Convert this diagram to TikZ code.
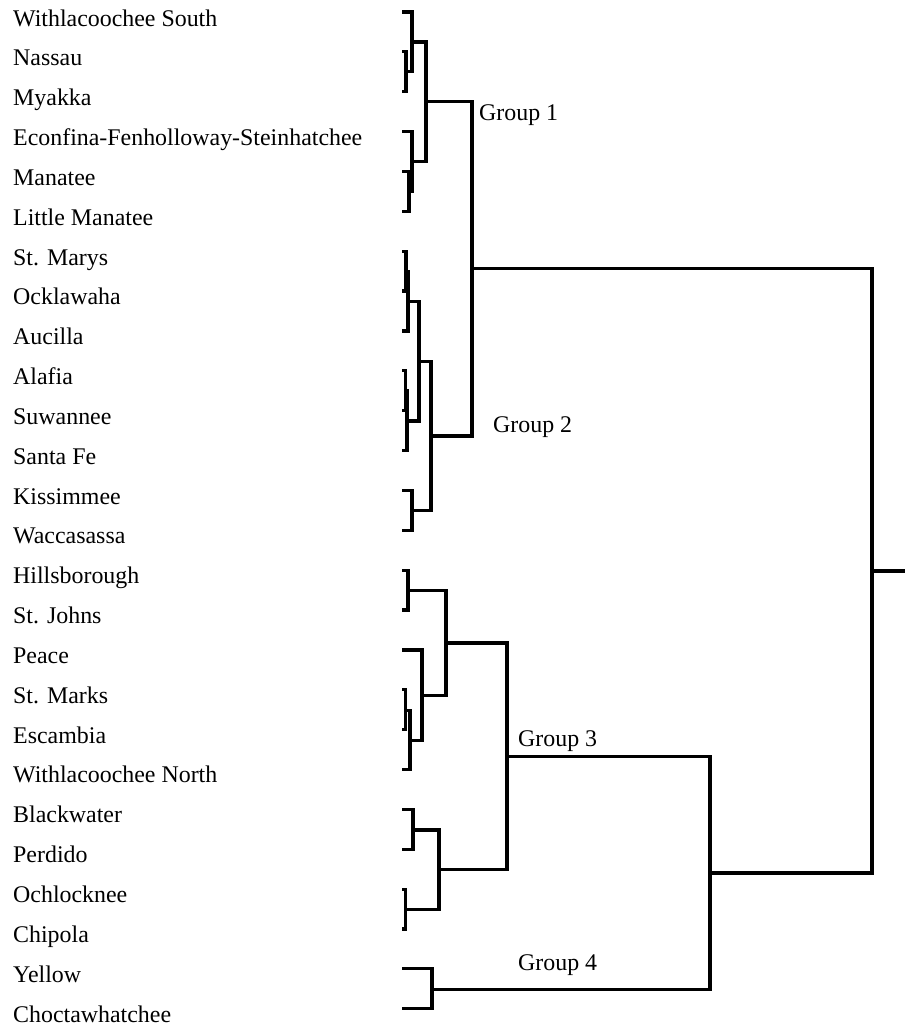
\documentclass[tikz,border=0pt]{standalone}
\usepackage{fontspec}
\setmainfont{Liberation Serif}
\begin{document}
\begin{tikzpicture}[x=1pt,y=-1pt,
  lbl/.style={anchor=base west,inner sep=0pt,font=\fontsize{23.9}{28}\selectfont},
  grp/.style={anchor=base west,inner sep=0pt,font=\fontsize{23.9}{28}\selectfont},
  br/.style={line width=3.2pt,line join=miter,line cap=rect}]
\useasboundingbox (0,0) rectangle (905,1026);
% labels
\foreach \t [count=\i from 0] in {Withlacoochee South,Nassau,Myakka,Econfina-Fenholloway-Steinhatchee,Manatee,Little Manatee,St. Marys,Ocklawaha,Aucilla,Alafia,Suwannee,Santa Fe,Kissimmee,Waccasassa,Hillsborough,St. Johns,Peace,St. Marks,Escambia,Withlacoochee North,Blackwater,Perdido,Ochlocknee,Chipola,Yellow,Choctawhatchee}
  \node[lbl] (t\i) at (13,{26+39.84*\i}) {\t};
% leaf coordinates
\foreach \i in {0,...,25}
  \coordinate (l\i) at (404,{12+39.87*\i});
% internal nodes
\coordinate (a1) at (406,71.85);
\coordinate (a2) at (412,41.9);
\coordinate (a3) at (409,191.55);
\coordinate (a4) at (412,161.6);
\coordinate (a5) at (426,101.75);
\coordinate (b1) at (406,271.35);
\coordinate (b2) at (408,301.3);
\coordinate (b3) at (405.5,391.05);
\coordinate (b4) at (407,420.98);
\coordinate (b5) at (419,361.13);
\coordinate (b6) at (412,510.75);
\coordinate (b7) at (431,435.94);
\coordinate (g12) at (472,268.85);
\coordinate (c1) at (408,590.55);
\coordinate (c2) at (405.5,710.25);
\coordinate (c3) at (410,740.18);
\coordinate (c4) at (422,695.29);
\coordinate (c5) at (446,642.92);
\coordinate (d1) at (413,829.95);
\coordinate (d2) at (405.5,909.75);
\coordinate (d3) at (439,869.85);
\coordinate (g3) at (507,756.39);
\coordinate (g4) at (432,989.55);
\coordinate (g34) at (710,872.97);
\coordinate (root) at (872,570.91);
\coordinate (rootend) at (906,570.91);
% merges
\draw[br] (l1) -| (a1) |- (l2);
\draw[br] (l0) -| (a2) |- (a1);
\draw[br] (l4) -| (a3) |- (l5);
\draw[br] (l3) -| (a4) |- (a3);
\draw[br] (a2) -| (a5) |- (a4);
\draw[br] (l6) -| (b1) |- (l7);
\draw[br] (b1) -| (b2) |- (l8);
\draw[br] (l9) -| (b3) |- (l10);
\draw[br] (b3) -| (b4) |- (l11);
\draw[br] (b2) -| (b5) |- (b4);
\draw[br] (l12) -| (b6) |- (l13);
\draw[br] (b5) -| (b7) |- (b6);
\draw[br] (a5) -| (g12) |- (b7);
\draw[br] (l14) -| (c1) |- (l15);
\draw[br] (l17) -| (c2) |- (l18);
\draw[br] (c2) -| (c3) |- (l19);
\draw[br] (l16) -| (c4) |- (c3);
\draw[br] (c1) -| (c5) |- (c4);
\draw[br] (l20) -| (d1) |- (l21);
\draw[br] (l22) -| (d2) |- (l23);
\draw[br] (d1) -| (d3) |- (d2);
\draw[br] (c5) -| (g3) |- (d3);
\draw[br] (l24) -| (g4) |- (l25);
\draw[br] (g3) -| (g34) |- (g4);
\draw[br] (g12) -| (root) |- (g34);
\draw[br] (root) -- (rootend);
% group labels
\node[grp] (G1) at (479,120) {Group 1};
\node[grp] (G2) at (493,432) {Group 2};
\node[grp] (G3) at (518,746) {Group 3};
\node[grp] (G4) at (518,970) {Group 4};
\end{tikzpicture}
\end{document}
